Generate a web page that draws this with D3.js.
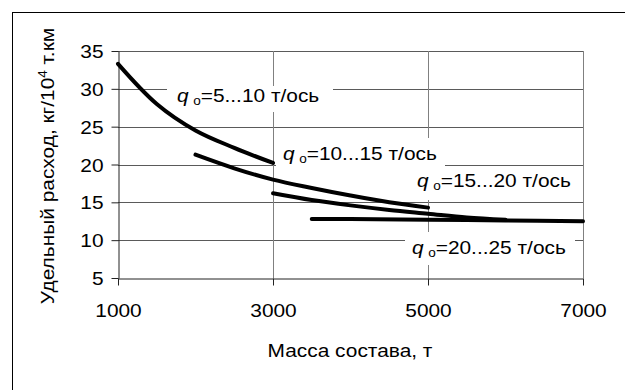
<!DOCTYPE html>
<head>
<title>Удельный расход</title>
<script src="https://d3js.org/d3.v7.min.js"></script>
<style>
  body { margin: 0; background: #fff; }
  text { font-family: "Liberation Sans", Arial, sans-serif; fill: #000; }
</style>
</head>
<body>
<div id="my_dataviz"></div>
<script>

// data (x = масса состава, т; y = удельный расход)
const xTicks = [1000, 3000, 5000, 7000];
const yTicks = [5, 10, 15, 20, 25, 30, 35];

const mass1 = [1000, 1500, 2000, 2500, 3000];
const rate1 = [33.3, 28.0, 24.5, 22.2, 20.2];

const mass2 = [2000, 2500, 3000, 3500, 4000, 4500, 5000];
const rate2 = [21.3, 19.5, 18.0, 16.9, 15.9, 15.0, 14.3];

const mass3 = [3000, 3500, 4000, 4500, 5000, 5500, 6000];
const rate3 = [16.2, 15.3, 14.6, 14.0, 13.5, 13.0, 12.7];

const mass4 = [3500, 4000, 5000, 6000, 7000];
const rate4 = [12.8, 12.8, 12.7, 12.6, 12.5];

const labels = ["5...10", "10...15", "15...20", "20...25"];

const fs = 18.5, sx = 1.13;   // font size and horizontal stretch of the picture

var svg = d3.select("#my_dataviz")
  .append("svg")
    .attr("width", 625)
    .attr("height", 390);

// outer frame (cut off at right and bottom)
svg.append("rect")
  .attr("x", 12.5).attr("y", 12.5)
  .attr("width", 640).attr("height", 400)
  .attr("fill", "#fff")
  .attr("stroke", "#000");

var x = d3.scaleLinear().domain([1000, 7000]).range([118, 583]);
var y = d3.scaleLinear().domain([5, 35]).range([278, 51]);

// grid
svg.append("g").selectAll("line")
  .data(yTicks.slice(1))
  .enter().append("line")
    .attr("x1", x(1000)).attr("x2", x(7000))
    .attr("y1", d => Math.round(y(d)) + 0.5)
    .attr("y2", d => Math.round(y(d)) + 0.5)
    .attr("stroke", "#5a5a5a");
svg.append("g").selectAll("line")
  .data(xTicks.slice(1))
  .enter().append("line")
    .attr("x1", d => Math.round(x(d)) + 0.5)
    .attr("x2", d => Math.round(x(d)) + 0.5)
    .attr("y1", y(35)).attr("y2", y(5))
    .attr("stroke", "#808080");

// axes
var yAxis = svg.append("g")
  .attr("transform", "translate(" + (Math.round(x(1000)) + 0.5) + ",0)")
  .call(d3.axisLeft(y).tickValues(yTicks).tickSize(7).tickSizeOuter(0).tickPadding(4));
var xAxis = svg.append("g")
  .attr("transform", "translate(0," + (Math.round(y(5)) + 0.5) + ")")
  .call(d3.axisBottom(x).tickValues(xTicks).tickSize(7).tickSizeOuter(0).tickPadding(18)
        .tickFormat(d3.format("d")));
svg.selectAll(".domain, .tick line").attr("stroke", "#222");
svg.selectAll(".tick text")
  .style("font-size", fs + "px")
  .attr("fill", "#000");
yAxis.selectAll(".tick text").attr("transform", "scale(" + sx + ",1)")
  .attr("x", -15 / sx).attr("dy", "0.36em");
xAxis.selectAll(".tick text").attr("transform", "scale(" + sx + ",1)");

// label boxes (white, hiding the grid)
const boxes = [[167, 86, 166, 26], [276, 138, 169, 37], [410, 175, 165, 25], [405, 232, 170, 33]];
svg.append("g").selectAll("rect")
  .data(boxes)
  .enter().append("rect")
    .attr("x", d => d[0]).attr("y", d => d[1])
    .attr("width", d => d[2]).attr("height", d => d[3])
    .attr("fill", "#fff");

// curves
var line = d3.line()
  .x(d => x(d[0]))
  .y(d => y(d[1]))
  .curve(d3.curveCatmullRom.alpha(0.5));

[[mass1, rate1], [mass2, rate2], [mass3, rate3], [mass4, rate4]].forEach(function(s) {
  svg.append("path")
    .datum(d3.zip(s[0], s[1]))
    .attr("d", line)
    .attr("fill", "none")
    .attr("stroke", "#000")
    .attr("stroke-width", 4)
    .attr("stroke-linecap", "round");
});

// series labels
const labelPos = [[177, 102], [283, 160], [417, 187], [412, 254]];
labels.forEach(function(l, i) {
  var t = svg.append("text")
    .attr("transform", "translate(" + labelPos[i][0] + "," + labelPos[i][1] + ") scale(" + sx + ",1)")
    .style("font-size", fs + "px");
  t.append("tspan").style("font-style", "italic").text("q");
  t.append("tspan").attr("dx", 4).attr("dy", 3).style("font-size", "12px").text("o");
  t.append("tspan").attr("dy", -3).text("=" + l + " т/ось");
});

// axis titles
svg.append("text")
  .attr("transform", "translate(350,357) scale(" + sx + ",1)")
  .attr("text-anchor", "middle")
  .style("font-size", fs + "px")
  .text("Масса состава, т");

var yt = svg.append("text")
  .attr("transform", "translate(54,166) rotate(-90) scale(" + sx + ",1)")
  .attr("text-anchor", "middle")
  .style("font-size", fs + "px");
yt.append("tspan").text("Удельный расход, кг/10");
yt.append("tspan").attr("dy", -7).style("font-size", "12px").text("4");
yt.append("tspan").attr("dy", 7).text(" т.км");

</script>
</body>
</html>
